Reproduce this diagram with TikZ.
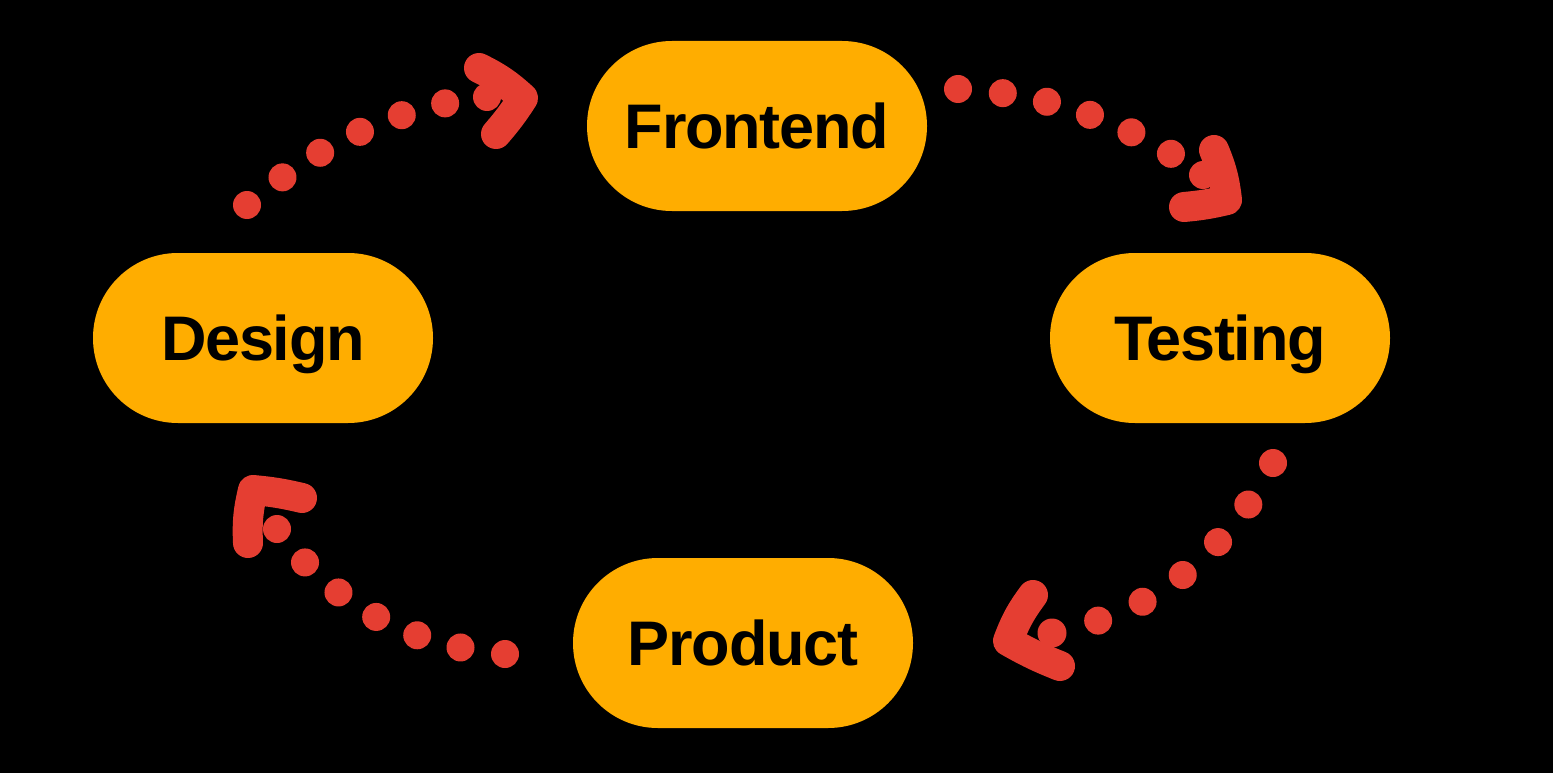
\documentclass[tikz,border=0pt]{standalone}
\usepackage{fontspec}
\newfontfamily\lblfont[LetterSpace=-2]{Liberation Sans}
\definecolor{stageorange}{RGB}{255,173,0}
\definecolor{dotred}{RGB}{229,62,50}
\begin{document}
\begin{tikzpicture}[x=1pt,y=-1pt,
  stage/.style={rectangle, rounded corners=84.9pt, fill=stageorange, minimum width=340pt, minimum height=170pt, inner sep=0pt, text height=45pt, text depth=0pt, font=\lblfont\bfseries\fontsize{63}{70}\selectfont},
  dotline/.style={draw=dotred, line width=28pt, line cap=round, dash pattern=on 0pt off 45pt},
  enddot/.style={fill=dotred},
  chev/.style={draw=dotred, line width=30pt, line cap=round, line join=round}]
\fill[black] (0,0) rectangle (1553,773);
\useasboundingbox (0,0) rectangle (1553,773);
\node[stage] (F) at (757,126) {Frontend};
\node[stage] (D) at (263,338) {Design};
\node[stage] (T) at (1220,338) {Testing};
\node[stage] (P) at (743,643) {Product};
% Design -> Frontend
\coordinate (df0) at (247,205);
\coordinate (df1) at (487,97);
\draw[dotline] (df0) .. controls (323,141) and (403,105) .. (df1);
\fill[enddot] (df1) circle (14);
\draw[chev] (479,68) to[bend left=8] (523,98) to[bend left=4] (496,134);
% Frontend -> Testing
\coordinate (ft0) at (958,89);
\coordinate (ft1) at (1203,175);
\draw[dotline] (ft0) .. controls (1048,93) and (1129,122) .. (ft1);
\fill[enddot] (ft1) circle (14);
\draw[chev] (1214,150) to[bend left=8] (1227,200) to[bend left=4] (1184,207);
% Testing -> Product
\coordinate (tp0) at (1273,463);
\coordinate (tp1) at (1052,633);
\draw[dotline, dash pattern=on 0pt off 48.3pt] plot[smooth, tension=0.5] coordinates {(tp0) (1248,505) (1220,540) (1184,574) (1144,601) (1100,620) (tp1)};
\fill[enddot] (tp1) circle (14.5);
\draw[chev] (1033,595) to[bend right=8] (1008,641) to[bend right=4] (1060,666);
% Product -> Design
\coordinate (pd0) at (505,654);
\coordinate (pd1) at (277,529);
\draw[dotline] (pd0) .. controls (408,645.5) and (332,604) .. (pd1);
\fill[enddot] (pd1) circle (14);
\draw[chev] (302,498) to[bend right=4] (253,490) to[bend right=8] (248,543);
\end{tikzpicture}
\end{document}
